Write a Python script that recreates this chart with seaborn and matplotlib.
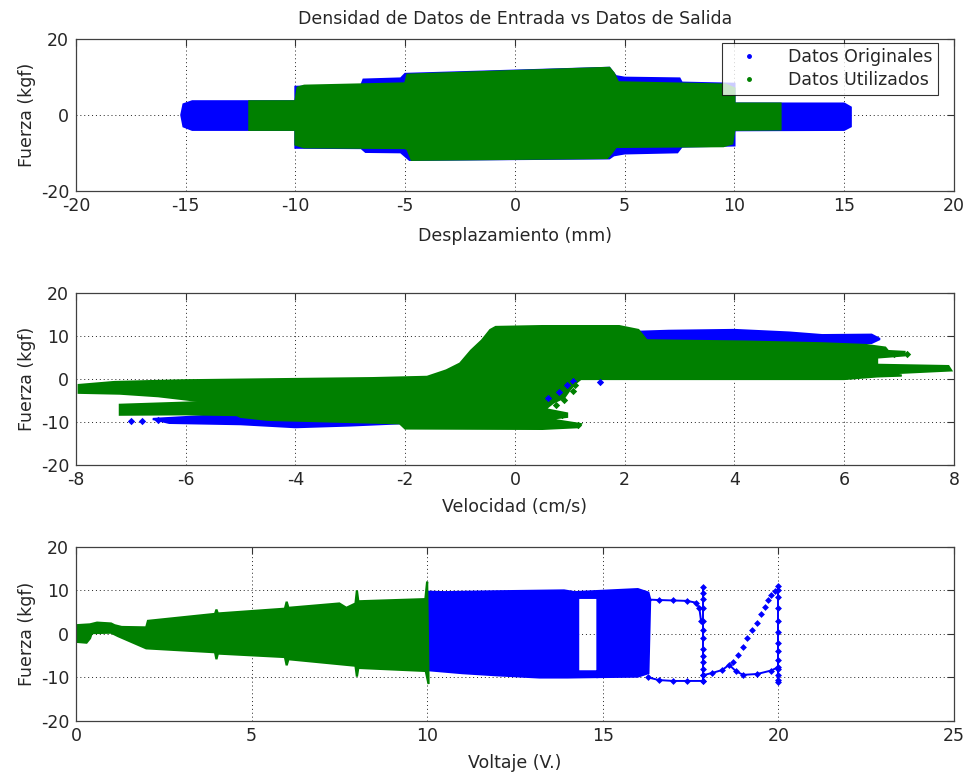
import matplotlib
matplotlib.use("Agg")
import matplotlib.pyplot as plt
from matplotlib.lines import Line2D
import seaborn as sns
import pandas as pd

# ---------------------------------------------------------------------------
# Data: outlines of the dense point clouds (x, fuerza) and sparse traces
# ---------------------------------------------------------------------------
BLUE = "#0000ff"
GREEN = "#008000"

# Desplazamiento (mm) vs Fuerza (kgf)
desp_orig_x = [-15.2, -15.1, -14.7, -10.0, -10.0, -7.0, -6.9, -5.2, -5.0, 4.3, 4.6, 5.0, 7.5, 7.6,
               10.0, 10.0, 15.0, 15.3, 15.3, 15.0, 10.0, 10.0, 7.6, 7.4, 5.0, 4.5, 4.3, -4.8,
               -5.0, -5.2, -6.8, -7.0, -10.0, -10.0, -14.7, -15.1]
desp_orig_f = [0.0, 2.8, 3.6, 3.6, 7.4, 7.8, 9.3, 9.6, 10.8, 12.4, 10.2, 9.8, 9.6, 8.5,
               8.2, 3.0, 3.0, 2.0, -3.0, -3.9, -4.0, -8.0, -8.3, -9.8, -10.1, -10.6, -11.4, -11.8,
               -10.8, -9.8, -9.7, -8.7, -8.6, -3.9, -3.9, -3.0]
desp_util_x = [-12.1, -10.0, -9.9, -9.6, -5.0, -4.9, 4.3, 4.5, 4.7, 9.6, 10.0, 10.0, 12.1,
               12.1, 10.0, 9.9, 9.5, 4.6, 4.4, 4.2, -4.7, -4.9, -5.0, -9.6, -10.0, -10.0, -12.1]
desp_util_f = [3.6, 3.6, 7.2, 7.7, 8.3, 10.6, 12.4, 11.0, 8.6, 8.0, 7.0, 3.0, 3.0,
               -3.8, -3.9, -7.5, -8.2, -8.4, -10.0, -11.3, -11.8, -9.0, -8.7, -8.5, -7.8, -3.9, -3.9]

# Velocidad (cm/s) vs Fuerza (kgf)
vel_orig_sup_x = [1.5, 1.8, 2.8, 4.0, 5.0, 5.6, 6.5, 6.65, 6.5, 4.5, 2.5]
vel_orig_sup_f = [9.0, 10.8, 11.2, 11.4, 10.8, 10.2, 10.3, 9.3, 8.4, 8.0, 8.5]
vel_orig_inf_x = [-6.6, -5.5, -3.5, -2.0, -2.1, -3.0, -4.0, -5.0, -6.3]
vel_orig_inf_f = [-9.3, -8.5, -8.6, -9.3, -10.3, -10.8, -11.2, -10.5, -10.2]
vel_util_x = [-7.95, -7.3, -6.0, -4.0, -2.6, -1.6, -1.25, -1.0, -0.8, -0.6, -0.45, -0.35, 0.5,
              1.9, 2.25, 2.4, 4.2, 5.6, 6.4, 6.75, 6.8, 7.1, 7.1, 6.6, 6.6, 7.9, 7.95, 6.8,
              7.05, 6.6, 6.0, 1.2, 1.1, 1.0, 0.9, 0.7, 0.55, 0.95, 0.95, 0.6, 1.2, 1.15, 0.5,
              -2.0, -2.1, -4.5, -5.0, -5.5, -6.5, -7.2, -7.95]
vel_util_f = [-1.4, -0.7, -0.3, 0.0, 0.2, 0.5, 2.0, 3.6, 6.6, 9.0, 11.4, 12.1, 12.3,
              12.3, 11.4, 9.0, 8.7, 8.3, 7.9, 7.3, 6.5, 6.3, 5.5, 5.0, 3.3, 3.0, 2.0, 1.3,
              0.8, 0.6, 0.0, 0.0, -1.0, -2.5, -4.3, -5.5, -7.0, -8.0, -8.8, -9.3, -10.5, -11.2, -11.6,
              -11.5, -10.3, -9.5, -8.8, -5.5, -4.0, -3.4, -3.2]
vel_util_banda_x = [-7.2, -6.0, -5.0, -4.5, -6.0, -7.2]
vel_util_banda_f = [-6.0, -5.5, -5.0, -8.5, -8.2, -8.3]
vel_orig_pts_x = [1.55, 1.05, 0.95, 0.8, 0.6, -6.8, -7.0, -6.5]
vel_orig_pts_f = [-0.8, -0.5, -1.5, -3.0, -4.5, -9.8, -9.7, -9.5]
vel_util_pts_x = [0.9, 0.75, 1.05, 1.1, 7.15, 6.9, 5.2, 5.6, 1.15, 0.85]
vel_util_pts_f = [-4.8, -6.0, -2.8, -1.5, 5.8, 5.9, 5.5, 5.0, -10.8, -8.3]

# Voltaje (V.) vs Fuerza (kgf)
volt_util_x = [0.0, 0.4, 0.6, 1.0, 1.1, 1.3, 2.0, 2.05, 3.0, 3.96, 4.0, 4.04, 5.95, 6.0, 6.05,
               7.5, 7.7, 7.96, 8.0, 8.04, 9.95, 10.0, 10.04, 9.96, 8.04, 8.0, 7.96, 6.05, 6.0, 5.95,
               4.04, 4.0, 3.96, 2.0, 1.2, 1.0, 0.45, 0.4, 0.3, 0.0]
volt_util_f = [2.0, 2.2, 2.6, 2.4, 2.0, 1.6, 1.5, 3.0, 3.8, 4.6, 5.6, 4.7, 5.8, 7.4, 6.0,
               7.0, 6.0, 7.0, 10.0, 7.5, 8.0, 12.0, -11.5, -8.5, -7.8, -9.8, -7.3, -5.8, -7.2, -5.3,
               -4.5, -5.8, -4.2, -3.3, -0.5, 0.3, 0.2, -1.0, -2.0, -1.8]
volt_orig_x = [10.0, 10.5, 12.0, 13.9, 14.2, 16.0, 16.3, 16.35, 16.3, 16.0, 14.85, 14.85, 14.85,
               14.3, 14.3, 14.84, 14.84, 14.0, 13.2, 12.0, 11.0, 10.0]
volt_orig_f = [9.7, 9.6, 9.8, 10.0, 9.6, 10.3, 9.5, 8.0, -9.0, -9.8, -9.9, -8.6, 8.3,
               8.3, -8.6, -8.6, -9.9, -10.0, -10.0, -9.5, -9.0, -8.3]
volt_sup_x = [16.3, 16.6, 17.0, 17.4, 17.65, 17.75, 17.8]
volt_sup_f = [7.9, 7.8, 7.7, 7.6, 7.2, 6.0, 3.0]
volt_v18_x = [17.85] * 13
volt_v18_f = [10.8, 9.5, 8.0, 6.0, 3.0, 1.0, -1.0, -3.5, -5.0, -6.5, -8.0, -9.5, -10.8]
volt_inf_x = [16.3, 16.6, 17.0, 17.4, 17.85]
volt_inf_f = [-10.0, -10.6, -10.8, -10.8, -10.8]
volt_cola_x = [17.85, 18.1, 18.4, 18.6, 18.8, 19.0, 19.4, 19.8, 20.0]
volt_cola_f = [-9.5, -9.0, -8.3, -7.1, -8.6, -9.4, -9.2, -8.4, -7.6]
volt_diag_x = [18.7, 18.85, 19.0, 19.12, 19.25, 19.38, 19.5, 19.62, 19.72, 19.8, 19.9]
volt_diag_f = [-6.5, -4.8, -3.0, -1.0, 0.8, 2.6, 4.5, 6.2, 7.8, 9.0, 9.8]
volt_v20_x = [20.0] * 13
volt_v20_f = [11.0, 10.0, 8.5, 6.0, 3.0, 0.5, -2.0, -4.0, -6.0, -8.0, -9.5, -10.5, -11.0]

titulo = "Densidad de Datos de Entrada vs Datos de Salida"
etiqueta_y = "Fuerza (kgf)"
leyenda = ["Datos Originales", "Datos Utilizados"]

# ---------------------------------------------------------------------------
FS = 12.5
sns.set_style("white")
plt.rcParams["font.family"] = ["DejaVu Sans"]
plt.rcParams["font.size"] = FS

fig = plt.figure(figsize=(9.69, 7.78), dpi=100)
ax1 = fig.add_axes([0.0784, 0.7545, 0.906, 0.1954])
ax2 = fig.add_axes([0.0784, 0.4023, 0.906, 0.2211])
ax3 = fig.add_axes([0.0784, 0.0733, 0.906, 0.2237])


def nube(ax, xs, fs, color):
    ax.fill(xs, fs, facecolor=color, edgecolor=color, linewidth=1.6, zorder=2)


def puntos(ax, xs, fs, color, size=14):
    sns.scatterplot(data=pd.DataFrame({"x": xs, "f": fs}), x="x", y="f", color=color,
                    marker="D", s=size, linewidth=0, ax=ax, zorder=3, legend=False)


def traza(ax, xs, fs, color):
    sns.lineplot(data=pd.DataFrame({"x": xs, "f": fs}), x="x", y="f", color=color,
                 sort=False, estimator=None, marker="D", markersize=3.5,
                 markeredgewidth=0, linewidth=1.4, ax=ax, zorder=3, legend=False)


def estilo(ax, xlim, xticks, yticks, xlabel, xpad=7):
    ax.set_xlim(*xlim)
    ax.set_ylim(-20, 20)
    ax.set_xticks(xticks)
    ax.set_yticks(yticks)
    ax.set_xticklabels([f"{t:g}" for t in xticks])
    ax.set_yticklabels([f"{t:g}" for t in yticks])
    ax.set_axisbelow(True)
    ax.grid(True, linestyle=(0, (1, 3)), color="#222222", linewidth=0.7)
    ax.tick_params(direction="in", top=True, right=True, length=5, width=0.8,
                   labelsize=FS, color="#333333")
    ax.tick_params(axis="x", pad=4)
    ax.tick_params(axis="y", pad=5)
    for s in ax.spines.values():
        s.set_color("#404040")
        s.set_linewidth(0.9)
    ax.set_xlabel(xlabel, fontsize=FS, labelpad=xpad)
    ax.set_ylabel(etiqueta_y, fontsize=FS, labelpad=3)


# Desplazamiento
nube(ax1, desp_orig_x, desp_orig_f, BLUE)
nube(ax1, desp_util_x, desp_util_f, GREEN)
estilo(ax1, (-20, 20), list(range(-20, 21, 5)), [-20, 0, 20], "Desplazamiento (mm)", xpad=9)
ax1.set_title(titulo, fontsize=FS, pad=11)
handles = [Line2D([], [], marker=".", linestyle="", color=BLUE, markersize=5),
           Line2D([], [], marker=".", linestyle="", color=GREEN, markersize=5)]
leg = ax1.legend(handles, leyenda, loc="upper right", bbox_to_anchor=(0.982, 0.974),
                 borderaxespad=0, fontsize=FS, frameon=True, fancybox=False,
                 handlelength=2.5, handletextpad=1.0, borderpad=0.3, labelspacing=0.3)
leg.get_frame().set_edgecolor("black")
leg.get_frame().set_linewidth(0.8)
leg.set_zorder(5)

# Velocidad
nube(ax2, vel_orig_sup_x, vel_orig_sup_f, BLUE)
nube(ax2, vel_orig_inf_x, vel_orig_inf_f, BLUE)
nube(ax2, vel_util_x, vel_util_f, GREEN)
nube(ax2, vel_util_banda_x, vel_util_banda_f, GREEN)
puntos(ax2, vel_orig_pts_x, vel_orig_pts_f, BLUE)
puntos(ax2, vel_util_pts_x, vel_util_pts_f, GREEN)
estilo(ax2, (-8, 8), list(range(-8, 9, 2)), [-20, -10, 0, 10, 20], "Velocidad (cm/s)")

# Voltaje
nube(ax3, volt_orig_x, volt_orig_f, BLUE)
nube(ax3, volt_util_x, volt_util_f, GREEN)
traza(ax3, volt_sup_x, volt_sup_f, BLUE)
traza(ax3, volt_v18_x, volt_v18_f, BLUE)
traza(ax3, volt_inf_x, volt_inf_f, BLUE)
traza(ax3, volt_cola_x, volt_cola_f, BLUE)
traza(ax3, volt_v20_x, volt_v20_f, BLUE)
puntos(ax3, volt_diag_x, volt_diag_f, BLUE, size=12)
estilo(ax3, (0, 25), list(range(0, 26, 5)), [-20, -10, 0, 10, 20], "Voltaje (V.)")

fig.savefig("out.png", dpi=100, facecolor="white")
